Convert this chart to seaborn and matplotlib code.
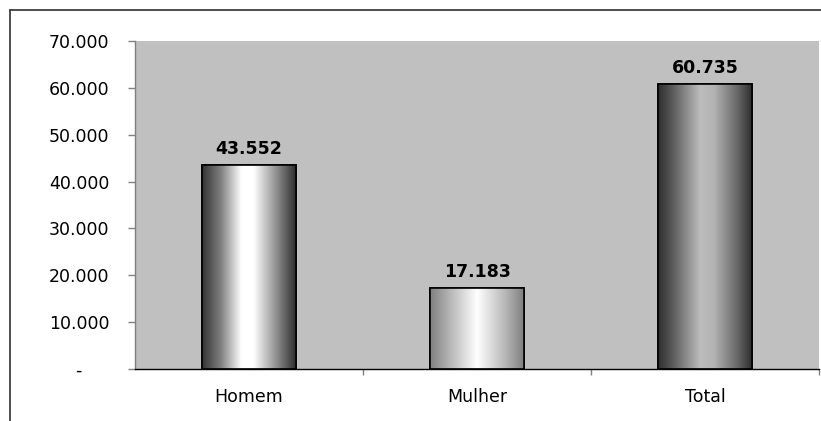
import numpy as np
import pandas as pd
import matplotlib
matplotlib.use('Agg')
import matplotlib.pyplot as plt
import seaborn as sns
from matplotlib.colors import LinearSegmentedColormap
from matplotlib.lines import Line2D
from matplotlib.ticker import FuncFormatter, FixedLocator

# data
categorias = ['Homem', 'Mulher', 'Total']
valores = [43552, 17183, 60735]
rotulos = ['43.552', '17.183', '60.735']

# gray shading across each bar (position, gray level)
degrades = [
    [(0.0, 0.20), (0.2, 0.50), (0.42, 1.0), (0.55, 1.0), (0.8, 0.55), (1.0, 0.18)],
    [(0.0, 0.50), (0.2, 0.70), (0.5, 1.0), (0.8, 0.72), (1.0, 0.50)],
    [(0.0, 0.18), (0.15, 0.35), (0.45, 0.74), (0.6, 0.70), (0.85, 0.40), (1.0, 0.18)],
]

sns.set_style('white')
plt.rcParams['font.family'] = ['DejaVu Sans']
plt.rcParams['text.color'] = 'black'
plt.rcParams['xtick.labelcolor'] = 'black'
plt.rcParams['ytick.labelcolor'] = 'black'

df = pd.DataFrame({'categoria': categorias, 'valor': valores})

fig = plt.figure(figsize=(8.21, 4.21), dpi=100)
ax = fig.add_axes([135 / 821, 52 / 421, 684 / 821, 328 / 421])
ax.set_facecolor('#c0c0c0')

sns.barplot(data=df, x='categoria', y='valor', ax=ax, color='white',
            width=0.41, edgecolor='black', linewidth=1.2, saturation=1)

# gradient fill clipped to each bar
for patch, stops in zip(ax.patches, degrades):
    cmap = LinearSegmentedColormap.from_list('g', [(p, (g, g, g)) for p, g in stops])
    x0, y0 = patch.get_x(), patch.get_y()
    w, h = patch.get_width(), patch.get_height()
    grad = np.linspace(0, 1, 256).reshape(1, -1)
    im = ax.imshow(grad, cmap=cmap, aspect='auto', extent=(x0, x0 + w, y0, y0 + h),
                   interpolation='bicubic', zorder=patch.get_zorder() + 0.1)
    im.set_clip_path(patch)
    # redraw outline on top
    ax.add_patch(plt.Rectangle((x0, y0), w, h, fill=False, edgecolor='black',
                               linewidth=1.2, zorder=patch.get_zorder() + 0.2))

ax.set_xlim(-0.5, 2.5)
ax.set_ylim(0, 70000)

for i, (v, r) in enumerate(zip(valores, rotulos)):
    ax.annotate(r, (i, v), xytext=(0, 8), textcoords='offset points',
                ha='center', va='baseline', fontsize=12.5, fontweight='bold')

# axes styling
ax.set_xlabel('')
ax.set_ylabel('')
for s in ['top', 'right']:
    ax.spines[s].set_visible(False)
ax.spines['left'].set_color('#808080')
ax.spines['bottom'].set_color('black')
ax.spines['left'].set_linewidth(1)
ax.spines['bottom'].set_linewidth(1)

ax.set_yticks(np.arange(0, 70001, 10000))
ax.yaxis.set_major_formatter(FuncFormatter(
    lambda v, p: '-' if v == 0 else f'{v:,.0f}'.replace(',', '.')))
ax.tick_params(axis='y', left=True, length=5, width=1, color='#808080',
               pad=13.5, labelsize=12.5)
ax.tick_params(axis='x', which='major', bottom=True, length=0, pad=14, labelsize=12.5)
ax.xaxis.set_minor_locator(FixedLocator([0.5, 1.5, 2.5]))
ax.tick_params(axis='x', which='minor', bottom=True, length=4, width=1, color='#808080')

# accounting-style dash sits further left than the numbers
fig.canvas.draw()
for lab in ax.get_yticklabels():
    if lab.get_text() == '-':
        lab.set_x(-0.04)

# outer chart frame
fig.add_artist(Line2D([10 / 821, 1.0], [1 - 9.5 / 421, 1 - 9.5 / 421], color='#303030', lw=1.2))
fig.add_artist(Line2D([10 / 821, 10 / 821], [0, 1 - 9.5 / 421], color='#303030', lw=1.2))

fig.savefig('out.png', dpi=100)
